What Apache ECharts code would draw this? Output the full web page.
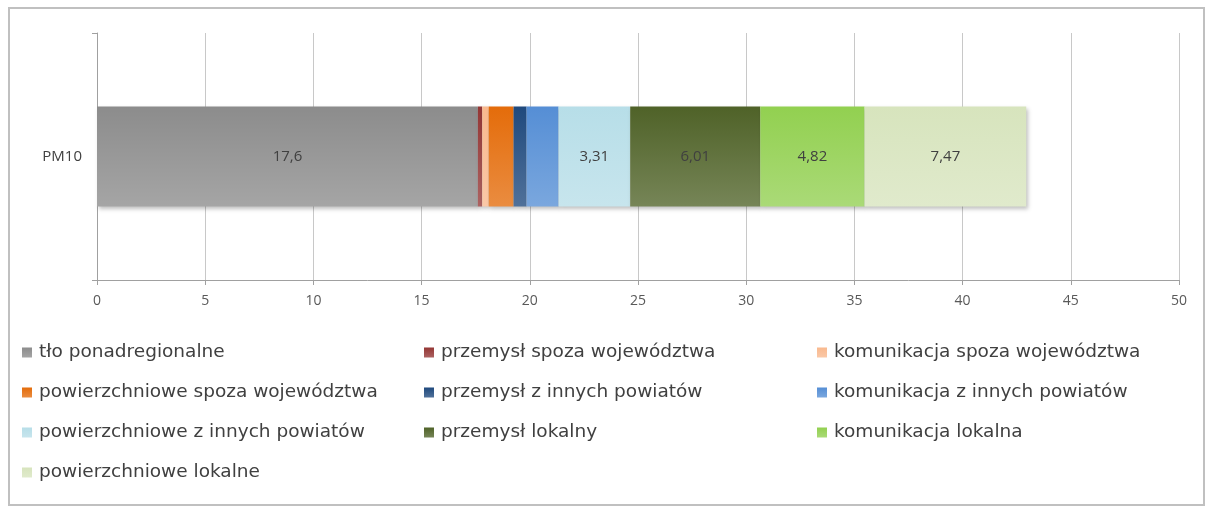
<!DOCTYPE html>
<html><head><meta charset="utf-8">
<script src="https://cdn.jsdelivr.net/npm/echarts@6/dist/echarts.min.js"></script>
<style>html,body{margin:0;padding:0;background:#fff}#c{width:1212px;height:511px}</style>
</head><body><div id="c"></div>
<script>
const categories = ['PM10'];
const seriesNames = ['tło ponadregionalne','przemysł spoza województwa','komunikacja spoza województwa','powierzchniowe spoza województwa','przemysł z innych powiatów','komunikacja z innych powiatów','powierzchniowe z innych powiatów','przemysł lokalny','komunikacja lokalna','powierzchniowe lokalne'];
const values = [17.6, 0.2, 0.3, 1.15, 0.6, 1.48, 3.31, 6.01, 4.82, 7.47];
const showLabel = [true,false,false,false,false,false,true,true,true,true];
const colors = ['#8c8c8c','#943634','#f9b98e','#e46c0a','#1f497d','#558ed5','#b7dee8','#4f6228','#92d050','#d7e4bd'];
const xTicks = [0,5,10,15,20,25,30,35,40,45,50];

function lighten(hex, f){
  const n=parseInt(hex.slice(1),16);let r=n>>16,g=(n>>8)&255,b=n&255;
  r=Math.round(r+(255-r)*f);g=Math.round(g+(255-g)*f);b=Math.round(b+(255-b)*f);
  return 'rgb('+r+','+g+','+b+')';
}
const chart = echarts.init(document.getElementById('c'));
const series = seriesNames.map((n,i)=>({
  name:n,type:'bar',stack:'s',barWidth:100,
  data:[values[i]],
  itemStyle:{color:{type:'linear',x:0,y:0,x2:0,y2:1,colorStops:[{offset:0,color:colors[i]},{offset:1,color:lighten(colors[i],0.22)}]},
    shadowColor:'rgba(0,0,0,0.25)',shadowBlur:4,shadowOffsetX:2,shadowOffsetY:2},
  label:{show:showLabel[i],position:'inside',color:'#404040',fontSize:15,fontFamily:'Open Sans',
    formatter:p=>String(p.value).replace('.',',')}
}));
const colX=[22,424,817], rowY=[343,383,423,463];
const legends = seriesNames.map((n,i)=>({
  data:[n],left:colX[i%3],top:rowY[Math.floor(i/3)],itemWidth:10,itemHeight:10,icon:'rect',itemGap:0,
  textStyle:{fontSize:18.5,color:'#404040',fontFamily:'DejaVu Sans',padding:[0,0,0,2]},padding:0
}));
chart.setOption({
  animation:false,
  color:colors,
  graphic:[{type:'rect',shape:{x:9,y:8,width:1195,height:497},style:{fill:'none',stroke:'#c0c0c0',lineWidth:2},z:-1}],
  legend:legends,
  grid:{left:97,right:33,top:33,bottom:231},
  xAxis:{type:'value',min:0,max:50,interval:5,
    axisLine:{show:true,lineStyle:{color:'#a0a0a0'}},
    axisTick:{show:true,length:5,lineStyle:{color:'#a0a0a0'}},
    axisLabel:{color:'#595959',fontSize:14,fontFamily:'Open Sans',margin:14,formatter:v=>xTicks.includes(v)?String(v):''},
    splitLine:{show:true,lineStyle:{color:'#c8c8c8'}}},
  yAxis:{type:'category',data:categories,
    axisLine:{show:true,lineStyle:{color:'#a0a0a0'}},
    axisTick:{show:true,length:5,alignWithLabel:false,lineStyle:{color:'#a0a0a0'}},
    axisLabel:{color:'#404040',fontSize:15,fontFamily:'Open Sans',margin:15}},
  series:series
});
</script></body></html>
